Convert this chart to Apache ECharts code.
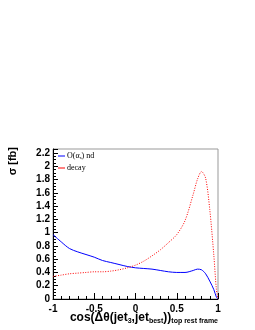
<!DOCTYPE html>
<html><head><meta charset="utf-8">
<script src="https://cdn.jsdelivr.net/npm/echarts@6/dist/echarts.min.js"></script>
<style>html,body{margin:0;padding:0;background:#fff}#c{width:255px;height:330px}</style>
</head><body><div id="c"></div>
<script>
var xs = [-1, -0.9, -0.8, -0.7, -0.6, -0.5, -0.4, -0.3, -0.2, -0.1, 0, 0.1, 0.2, 0.3, 0.4, 0.5, 0.6, 0.7, 0.75, 0.8, 0.85, 0.9, 0.95, 0.98, 1];
var nlo = [0.97, 0.86, 0.76, 0.71, 0.67, 0.63, 0.58, 0.55, 0.52, 0.49, 0.47, 0.46, 0.45, 0.43, 0.41, 0.40, 0.40, 0.43, 0.45, 0.44, 0.38, 0.27, 0.14, 0.03, 0.0];
var decay = [0.34, 0.36, 0.38, 0.39, 0.40, 0.41, 0.41, 0.42, 0.44, 0.47, 0.51, 0.57, 0.65, 0.74, 0.85, 0.97, 1.18, 1.58, 1.80, 1.92, 1.82, 1.35, 0.65, 0.15, 0.0];
var seriesNames = ['O(αs) nd', 'decay'];
var xTicks = ['-1', '-0.5', '0', '0.5', '1'];
var yTicks = ['0', '0.2', '0.4', '0.6', '0.8', '1', '1.2', '1.4', '1.6', '1.8', '2', '2.2'];

function pairs(v){ return xs.map(function(x,i){ return [x, v[i]]; }); }
var chart = echarts.init(document.getElementById('c'), null, {renderer:'canvas'});
var lblFont = {fontFamily:'Liberation Sans, Arial, sans-serif', fontWeight:'bold', fontSize:10, color:'#000'};
chart.setOption({
  animation:false,
  backgroundColor:'#fff',
  grid:{left:53, right:37, top:149, bottom:31, show:true, borderColor:'#999', borderWidth:1, backgroundColor:'transparent'},
  legend:{
    orient:'vertical', left:58, top:152, itemWidth:7, itemHeight:1, itemGap:4, icon:'rect', padding:0,
    data: seriesNames,
    formatter:function(n){ return n === seriesNames[0] ? '{a|O(α}{s|s}{a|) nd}' : '{a|decay}'; },
    textStyle:{fontFamily:'Liberation Serif, Times New Roman, serif', fontSize:8, color:'#000', padding:[0,0,0,-3],
      rich:{a:{fontFamily:'Liberation Serif, serif', fontSize:8, lineHeight:10, color:'#000'}, s:{fontFamily:'Liberation Serif, serif', fontSize:5, lineHeight:10, color:'#000', padding:[3,0,0,0]}}}
  },
  xAxis:{type:'value', min:-1, max:1, interval:0.5,
    axisLine:{show:true, onZero:false, lineStyle:{color:'#000', width:1}},
    axisTick:{inside:true, length:6, lineStyle:{color:'#000'}},
    minorTick:{show:true, splitNumber:5, length:3, lineStyle:{color:'#000'}},
    splitLine:{show:false},
    axisLabel:Object.assign({margin:5, formatter:function(v){
      var i = xTicks.indexOf(String(Math.round(v*10)/10)); return i>=0 ? xTicks[i] : ''; }}, lblFont)
  },
  yAxis:{type:'value', min:0, max:2.26, interval:0.2,
    axisLine:{show:true, onZero:false, lineStyle:{color:'#000', width:1}},
    axisTick:{inside:true, length:5, lineStyle:{color:'#000'}},
    minorTick:{show:true, splitNumber:4, length:3, lineStyle:{color:'#000'}},
    splitLine:{show:false},
    axisLabel:Object.assign({margin:3, formatter:function(v){
      var s = String(Math.round(v*100)/100); return yTicks.indexOf(s)>=0 ? s : ''; }}, lblFont)
  },
  series:[
    {name:seriesNames[0], type:'line', data:pairs(nlo), smooth:0.3, symbol:'none', color:'#0000ff', lineStyle:{color:'#0000ff', width:1}},
    {name:seriesNames[1], type:'line', data:pairs(decay), smooth:0.3, symbol:'none', color:'#ff0000', lineStyle:{color:'#ff0000', width:1, type:[1,1.5]}}
  ],
  graphic:[
    {type:'text', right:37, top:312, style:{
      text:'{m|cos(Δθ(jet}{s|3}{m|,jet}{s|best}{m|))}{s|top rest frame}',
      rich:{m:{fontFamily:'Liberation Sans, Arial, sans-serif', fontWeight:'bold', fontSize:12, color:'#000'},
            s:{fontFamily:'Liberation Sans, Arial, sans-serif', fontWeight:'bold', fontSize:7, color:'#000', padding:[6,0,0,0]}}}},
    {type:'text', x:13, y:147, rotation:Math.PI/2, style:{text:'σ [fb]', align:'right', verticalAlign:'middle',
      fontFamily:'Liberation Sans, Arial, sans-serif', fontWeight:'bold', fontSize:11, fill:'#000'}}
  ]
});
</script></body></html>
